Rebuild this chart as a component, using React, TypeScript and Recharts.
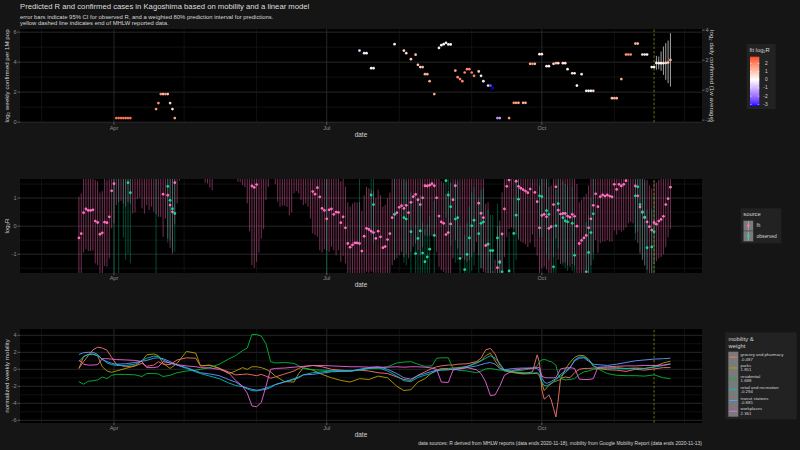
import React from 'react';
import { ComposedChart, Scatter, Line, XAxis, YAxis, ReferenceLine, ErrorBar } from 'recharts';

const FONT = '"Liberation Sans", Arial, Helvetica, sans-serif';

// ---------- time axis: days since 2020-03-01 ----------
const xDomain = [-9.2, 282.5];
const xTickDays = [31, 122, 214];
const xTickLabels = ['Apr', 'Jul', 'Oct'];
const minorMonthDays = [0, 61, 92, 153, 184, 245, 275];
const reportEndDay = 262;

// ---------- panel 1: confirmed cases ----------
const casesDays = [32,33,34,35,36,37,38,49,50,51,52,53,54,55,56,57,136,138,139,141,142,151,155,156,158,160,161,162,163,164,165,166,168,170,171,172,173,174,175,177,178,179,180,181,182,183,184,185,187,188,189,191,192,193,195,196,200,202,203,204,206,207,209,210,211,213,214,216,217,219,220,221,223,224,225,227,228,229,231,233,234,235,236,244,245,246,248,250,251,252,254,255,257,258,259,261,262];
const casesLog2 = [0.27,0.27,0.27,0.27,0.27,0.27,0.27,0.87,1.27,1.87,1.87,1.87,1.87,1.27,0.87,0.27,4.77,4.6,4.6,3.6,3.6,5.2,4.77,4.6,4.2,4.5,3.82,3.67,3.67,3.2,3.2,2.73,1.87,4.95,5.13,5.2,5.29,5.18,5.18,3.44,3.0,2.87,2.73,3.31,3.53,3.53,3.31,3.09,3.38,3.09,2.73,2.44,2.44,2.27,0.27,0.27,0.27,1.29,1.29,1.29,1.29,1.29,3.89,3.89,3.89,4.53,4.53,3.73,3.73,3.89,3.93,3.93,3.93,3.93,3.53,3.26,3.26,2.44,3.2,2.09,2.09,2.09,2.09,1.6,1.6,1.6,2.87,4.51,4.51,4.51,5.24,5.24,4.51,4.51,4.51,3.67,3.67];
const predDays = [263,264,265,266,267,268,269];
const predLog2 = [3.95,3.93,3.93,3.93,3.95,3.97,4.15];
const predLo = [3.49,3.53,3.42,3.15,2.82,2.6,2.37];
const predHi = [4.42,4.37,4.71,5.04,5.27,5.44,5.93];
const casesDomain = [-0.01, 6.21];
const dailyOffset = 2.13; // log2 daily (1w avg) = log2 weekly per 1M - offset
const casesTicks = [0, 2, 4, 6];
const dailyTicks = [-2, 0, 2, 4];

// ---------- panel 2: log2 R ----------
const fitStart = 16;
const fitVal = [
-0.42,-0.27,0.48,0.61,0.56,0.56,0.58,0.18,0.13,-0.29,
-0.24,0.14,0.12,0.33,1.26,1.51,2.2,2.3,2.35,2.25,
2.15,2.3,2.25,1.9,1.95,2.4,2.45,2.1,1.9,2.2,
2.0,2.15,1.95,1.85,1.8,1.8,1.14,1.75,1.1,0.75,
0.51,1.55,2.3,3.1,null,null,null,null,null,null,
null,null,null,null,3.0,3.0,2.85,2.75,null,null,
null,null,null,null,null,null,null,null,3.0,3.0,
2.9,2.85,2.4,1.9,1.43,1.38,1.48,1.9,2.3,2.6,
3.0,3.2,null,null,3.2,2.8,2.6,2.6,2.6,2.6,
2.3,2.4,3.0,3.1,3.0,2.8,2.6,2.7,2.6,2.1,
1.23,1.14,1.37,1.04,0.63,0.56,0.26,0.58,0.61,0.42,
0.5,0.49,0.12,0.33,-0.06,-0.62,-0.75,-0.67,-0.6,-0.6,
-0.62,-0.89,-0.36,-0.08,-0.12,-0.18,-0.23,-0.44,-0.18,-0.38,
-0.77,-0.73,-0.48,-0.27,0.3,0.42,0.48,0.67,0.73,0.63,
0.74,0.48,0.85,1.05,1.13,0.94,0.77,1.01,1.44,1.43,
1.46,1.51,1.44,1.01,0.36,0.15,0.1,-0.3,-0.23,0.08,
0.94,1.44,1.9,2.0,2.0,2.0,2.0,2.0,2.0,2.0,
2.0,0.82,0.46,0.3,-0.69,-0.64,-2.5,-3.2,-2.8,-1.48,
-1.27,-0.28,0.61,1.42,1.64,1.9,1.85,1.6,1.42,1.35,
1.3,1.25,1.19,1.32,1.8,1.2,0.87,-0.06,0.38,0.42,
0.33,-0.08,-0.02,0.77,1.4,0.57,0.43,0.45,0.45,0.36,
0.32,0.42,0.35,0.0,-0.62,-0.51,-0.42,-0.33,-0.06,0.26,
0.74,1.15,0.69,1.05,1.11,1.07,1.11,1.07,1.04,1.49,
1.31,1.49,1.43,1.49,1.62,1.8,1.85,1.8,1.43,1.08,
0.68,0.51,0.32,0.15,-0.02,-0.14,0.13,0.07,0.18,0.24,
0.35,0.77,0.98,1.39];
const fitLo = [
-1.9,-1.8,-0.94,-0.82,-0.89,-0.89,-0.87,-1.33,-1.39,-1.8,
-1.75,-1.42,-1.45,-1.15,-0.08,0.1,0.75,0.85,0.9,0.8,
0.7,0.85,0.8,0.45,0.49,0.96,1.01,0.63,0.45,0.75,
0.57,0.69,0.51,0.42,0.33,0.33,-0.38,0.27,-0.44,-0.77,
-0.98,0.06,0.81,1.62,null,null,null,null,null,null,
null,null,null,null,1.55,1.52,1.38,1.28,null,null,
null,null,null,null,null,null,null,null,1.58,1.56,
1.46,1.39,0.81,-0.18,-1.39,-1.49,-1.27,-0.94,-0.44,-0.11,
0.93,1.4,null,null,1.49,0.87,0.69,0.73,0.73,0.69,
0.39,0.49,1.17,1.25,1.17,0.93,0.75,0.81,0.69,0.27,
-0.26,-0.32,-0.38,-0.86,-0.94,-0.82,-0.86,-0.92,-0.74,-0.86,
-1.04,-0.86,-1.27,-1.06,-1.33,-1.85,-2.0,-2.0,-2.0,-2.0,
-2.0,-2.2,-1.9,-1.62,-1.66,-1.62,-1.66,-1.75,-1.66,-1.75,
-2.0,-2.0,-1.9,-1.8,-1.39,-1.21,-1.15,-1.04,-0.92,-1.1,
-0.98,-1.15,-0.92,-0.74,-0.62,-0.86,-1.04,-0.74,-0.33,-0.36,
-0.33,-0.36,-0.38,-0.92,-1.45,-1.57,-1.63,-1.9,-1.9,-1.9,
-1.15,-0.5,-0.8,-1.04,-1.15,-1.21,-1.27,-1.21,-1.1,-0.92,
-0.56,-1.04,-1.5,-1.63,-2.0,-2.0,-3.8,-4.5,-4.1,-3.0,
-2.9,-1.9,-1.1,-0.4,-0.1,-0.05,-0.1,-0.3,-0.45,-0.55,
-0.6,-0.65,-0.75,-0.6,-0.3,-0.75,-1.05,-1.85,-1.5,-1.45,
-1.55,-1.9,-1.85,-1.1,-0.45,-1.2,-1.35,-1.3,-1.3,-1.4,
-1.45,-1.35,-1.4,-1.75,-2.3,-2.2,-2.1,-2.0,-1.75,-1.4,
-0.95,-0.5,-0.95,-0.6,-0.55,-0.55,-0.5,-0.55,-0.55,-0.15,
-0.3,-0.15,-0.2,-0.15,-0.05,0.1,0.15,0.1,-0.25,-0.6,
-1.0,-1.2,-1.4,-1.55,-1.75,-1.85,-1.35,-1.25,-1.15,-1.1,
-1.0,-0.75,-0.4,-0.1];
const fitHi = [
1.05,1.17,1.95,2.05,2.0,2.0,2.05,1.65,1.6,1.2,
1.25,1.7,1.65,1.8,2.7,2.95,3.6,3.7,3.8,3.7,
3.6,3.7,3.7,3.35,3.4,3.85,3.9,3.55,3.35,3.65,
3.45,3.6,3.4,3.3,3.25,3.25,2.6,3.2,2.55,2.2,
1.95,3.0,3.75,4.5,null,null,null,null,null,null,
null,null,null,null,4.4,4.4,4.3,4.2,null,null,
null,null,null,null,null,null,null,null,4.4,4.4,
4.3,4.3,3.9,3.4,2.9,2.85,2.95,3.4,3.8,4.1,
4.5,4.7,null,null,4.7,4.3,4.1,4.1,4.1,4.1,
3.8,3.9,4.5,4.6,4.5,4.3,4.1,4.2,4.1,3.6,
2.7,2.6,2.9,2.5,2.1,2.0,1.75,2.05,2.05,1.9,
1.95,1.95,1.6,1.8,1.4,0.85,0.7,0.8,0.85,0.85,
0.85,0.55,1.1,1.4,1.35,1.3,1.25,1.0,1.3,1.1,
0.7,0.75,1.0,1.2,1.8,1.9,1.95,2.15,2.2,2.1,
2.2,1.95,2.3,2.5,2.6,2.4,2.25,2.5,2.9,2.9,
2.9,3.0,2.9,2.5,1.85,1.6,1.55,1.15,1.25,1.55,
2.4,2.9,3.4,3.5,3.5,3.5,3.5,3.5,3.5,3.5,
3.5,2.3,1.9,1.8,0.8,0.85,-0.9,-1.6,-1.2,0.0,
0.2,1.2,2.1,2.9,3.1,3.4,3.3,3.1,2.9,2.85,
2.8,2.75,2.7,2.8,3.3,2.7,2.35,1.45,1.85,1.9,
1.8,1.4,1.45,2.25,2.9,2.05,1.9,1.95,1.95,1.85,
1.8,1.9,1.85,1.5,0.85,0.95,1.05,1.15,1.45,1.75,
2.25,2.65,2.2,2.55,2.6,2.55,2.6,2.55,2.55,3.0,
2.8,3.0,2.9,3.0,3.1,3.3,3.35,3.3,2.9,2.55,
2.15,2.0,1.8,1.65,1.45,1.35,1.6,1.55,1.65,1.7,
1.8,2.25,2.45,2.9];

const obsDays = [31,33,35,36,37,38,49,54,55,56,57,122,136,141,142,151,155,156,158,160,161,162,163,164,165,166,168,173,174,175,177,178,179,181,182,183,184,185,187,188,189,191,192,193,195,196,197,200,202,203,204,213,214,216,217,219,220,221,223,224,225,227,228,233,234,235,236,254,255,256,257,258,259,261,262];
const obsVal = [1.9,1.9,1.9,1.9,1.55,1.19,1.9,1.42,0.92,0.62,0.45,1.9,1.8,1.11,0.77,0.42,0.3,0.25,-0.2,-0.98,-0.44,-0.17,-0.96,-1.27,-1.1,-0.82,-0.33,1.62,1.11,0.69,0.25,0.3,-1.15,-1.55,-1.01,-0.42,0.01,0.21,-0.27,0.1,0.15,-0.64,-0.87,-0.87,-0.42,-1.3,-1.63,-1.6,-0.26,0.39,0.96,1.08,1.05,0.55,0.42,-1.45,0.01,0.8,0.3,0.19,0.15,0.1,-1.04,-1.63,-0.94,-0.23,0.44,1.08,1.4,0.77,0.49,0.3,-0.77,-0.74,-0.2];
const obsLo = [-2.5,-2.5,-0.4,-1.2,-1.0,-1.33,-2.5,-0.6,-0.5,-0.9,-0.92,-2.5,-0.7,-0.3,-0.6,-1.2,-1.3,-1.4,-2.0,-2.8,-2.2,-1.9,-2.8,-3.0,-2.9,-2.6,-2.0,0.3,-0.3,-0.7,-1.3,-1.2,-3.0,-3.5,-2.9,-2.2,-1.6,-1.4,-1.9,-1.5,-1.5,-2.4,-2.7,-2.7,-2.2,-3.2,-3.5,-3.5,-2.0,-1.2,-0.5,-0.4,-0.4,-1.0,-1.2,-3.5,-1.8,-0.8,-1.4,-1.5,-1.6,-1.6,-3.0,-3.5,-2.9,-2.0,-1.2,-0.5,-0.2,-0.9,-1.2,-1.4,-2.6,-2.6,-1.9];
const obsHi = [3.0,3.0,3.0,3.0,2.8,2.5,3.0,2.8,2.3,2.0,1.8,3.0,3.0,2.5,2.2,1.8,1.7,1.6,1.2,0.05,0.9,1.1,0.15,-0.1,0.05,0.35,0.9,2.8,2.4,2.0,1.6,1.6,0.0,-0.32,0.1,0.7,1.2,1.4,1.0,1.3,1.35,0.6,0.4,0.4,0.8,0.0,-0.3,-0.2,1.0,1.6,2.1,2.3,2.3,1.8,1.7,0.04,1.3,2.0,1.6,1.5,1.45,1.4,0.3,0.15,0.4,1.0,1.7,2.3,2.6,2.0,1.8,1.6,0.6,0.6,1.1];
const rDomain = [-1.66, 1.68];
const rTicks = [-1, 0, 1];

// ---------- panel 3: mobility ----------
const mobDays = [16,18,20,22,24,26,28,30,32,36,40,43,45,48,50,52,55,58,62,66,68,72,76,80,83,86,88,90,92,94,96,98,100,104,108,110,112,116,120,124,128,132,136,140,144,148,152,155,158,161,164,167,169,171,174,176,178,182,186,188,190,192,194,196,198,202,206,210,212,213,214,215,216,217,218,219,220,221,222,224,226,228,230,232,234,236,238,242,246,250,254,258,262,266,269];
const grocery = [0.1,0.9,1.6,2.3,2.6,2.5,2.25,1.4,0.6,0.3,0.4,0.7,0.35,0.5,0.9,0.6,0.55,1.1,1.35,1.3,0.4,0.45,0.1,-0.3,-0.65,-0.6,-0.55,-0.65,-0.75,-0.6,-0.8,-1.05,-0.9,-0.55,-0.2,0.1,0.3,0.45,0.3,0.0,-0.1,-0.2,-0.1,-0.2,-0.4,-0.5,-0.9,-1.2,-1.3,-0.7,-0.3,0.1,0.3,0.4,0.5,0.5,0.6,0.65,0.9,1.3,2.3,2.45,1.8,0.5,-0.1,-0.35,-0.5,-0.3,1.7,0.8,-2.4,-3.5,-3.3,-3.0,-3.6,-4.6,-5.6,-3.6,-1.1,-0.9,-1.0,-0.4,0.0,0.1,0.1,0.15,0.1,-0.05,-0.1,-0.25,0.0,-0.1,0.05,0.2,0.2];
const parks = [0.1,1.5,1.75,1.8,1.6,0.3,-0.2,-0.35,-0.2,0.1,0.4,1.0,1.7,1.8,1.6,0.7,0.1,0.7,2.1,1.9,0.4,0.5,0.15,-0.5,-0.2,0.2,0.0,0.3,0.3,0.2,0.0,-0.3,-0.8,-1.45,-1.5,-0.5,0.2,-0.1,-0.6,-1.0,-1.3,-1.5,-1.1,-1.2,-0.8,-1.0,-2.0,-2.5,-2.4,-1.5,-1.1,-0.4,-0.1,0.1,0.1,0.15,0.2,0.3,0.8,1.0,1.6,1.9,1.0,0.2,-0.2,-0.4,-0.55,-0.5,-0.5,-0.8,-1.6,-2.5,-2.2,-1.9,-1.7,-1.5,-1.4,-1.3,-1.2,0.0,0.8,1.4,1.65,1.6,1.2,0.4,0.1,0.15,0.2,0.1,0.15,0.1,0.3,0.75,0.95];
const residential = [-1.45,-1.75,-1.4,-1.35,-1.25,-0.9,-1.1,-0.7,-0.6,-0.6,-0.65,-0.85,-0.5,-0.5,-0.55,-0.85,-0.7,-0.4,-0.2,-0.1,0.0,0.2,0.6,1.2,1.6,2.2,2.5,4.1,4.1,3.9,3.0,0.9,0.75,0.8,0.7,0.4,0.1,-0.05,-0.1,-0.15,-0.2,-0.2,-0.1,0.1,0.1,0.3,0.75,0.85,0.9,0.6,0.35,0.4,1.3,1.35,1.35,0.1,-0.1,-0.2,-0.4,-0.2,0.05,0.1,0.0,-0.1,-0.1,-0.2,-0.1,0.1,0.4,0.9,1.1,1.15,1.1,0.95,0.9,0.7,0.5,-0.6,-1.1,-1.25,-1.2,-1.1,-0.6,-0.3,-0.2,0.0,0.05,-0.5,-0.7,-0.75,-0.75,-0.8,-0.65,-1.0,-1.1];
const retail = [0.9,1.5,1.75,1.75,1.6,1.2,0.75,0.55,0.45,0.45,0.6,1.05,1.3,1.55,1.5,1.1,0.7,0.5,0.1,-0.3,-0.5,-0.8,-1.1,-1.6,-1.9,-2.05,-2.3,-2.5,-2.55,-2.35,-2.2,-2.0,-1.8,-1.45,-1.1,-0.9,-0.65,-0.4,-0.3,-0.2,-0.15,-0.2,-0.1,0.1,0.2,-0.2,-0.8,-1.35,-1.45,-0.95,-0.7,-0.45,-0.2,-0.1,-0.05,0.0,0.1,0.35,0.7,1.0,1.3,1.6,1.3,0.7,-0.1,-0.3,-0.4,-0.45,-0.4,-0.6,-1.45,-1.9,-1.95,-1.8,-1.65,-1.4,-1.2,-1.0,-0.8,-0.4,0.1,1.1,1.45,1.45,1.1,0.4,0.2,0.15,0.1,0.05,0.1,0.1,0.25,0.45,0.6];
const transit = [1.75,1.95,2.0,2.0,1.75,1.15,0.9,0.7,0.6,0.65,0.8,0.95,1.05,1.3,1.35,1.25,0.9,0.5,0.2,-0.2,-0.4,-0.55,-0.75,-1.2,-1.5,-2.0,-2.2,-2.35,-2.45,-2.45,-2.35,-2.15,-1.8,-1.5,-1.2,-1.0,-0.65,-0.6,-0.45,-0.3,-0.25,-0.2,0.0,0.2,0.3,0.0,-0.5,-1.0,-1.15,-0.75,-0.5,-0.25,-0.1,-0.05,-0.05,0.0,0.05,0.2,0.4,0.55,0.7,0.8,0.6,0.1,-0.05,0.1,0.15,0.15,0.1,-0.2,-1.0,-1.5,-1.65,-1.55,-1.45,-1.25,-1.1,-0.9,-0.6,-0.2,0.2,1.0,1.3,1.35,0.95,0.6,0.55,0.45,0.6,0.8,1.0,1.1,1.2,1.25,1.3];
const workplaces = [1.1,0.6,0.5,0.5,0.55,1.25,1.25,1.2,1.15,1.1,1.05,0.9,0.2,0.2,0.3,0.9,0.75,0.55,0.4,0.3,0.2,0.15,0.0,-0.4,-1.3,-2.0,-2.8,-4.3,-4.4,-3.9,-2.0,0.0,0.1,0.15,0.25,0.3,0.35,0.45,0.45,0.4,0.35,0.3,0.3,0.25,0.25,0.25,0.3,0.25,0.3,0.3,0.25,0.15,0.0,-1.5,-1.55,-0.1,0.0,0.2,-0.05,-0.5,-1.5,-3.1,-3.0,-2.0,-0.7,-0.1,0.05,0.15,0.2,0.2,-0.8,-0.95,-1.0,-1.0,-1.0,-1.0,-0.95,-0.5,0.05,0.15,0.2,0.1,-1.15,-1.2,-1.2,-1.1,0.25,0.3,0.35,0.4,0.4,0.45,0.45,0.5,0.65];
const mobKeys = ['grocery', 'parks', 'residential', 'retail', 'transit', 'workplaces'];
const mobNames = ['grocery and pharmacy', 'parks', 'residential', 'retail and recreation', 'transit stations', 'workplaces'];
const mobWeights = ['-0.487', '1.851', '1.688', '-0.294', '-0.885', '2.361'];
const mobColors = ['#F8766D', '#B79F00', '#00BA38', '#00BFC4', '#619CFF', '#F564E3'];
const mobDomain = [-6.28, 4.74];
const mobTicks = [-6, -4, -2, 0, 2, 4];

// ---------- colour scale (gradient2: blue - white - red, Lab interpolation) ----------
const colorHalfRange = 3.2;
const colorBarRange = [-3.2, 2.8];
const colorBarTicks = [2, 1, 0, -1, -2, -3];
const toLin = (c) => { c /= 255; return c <= 0.04045 ? c / 12.92 : Math.pow((c + 0.055) / 1.055, 2.4); };
const fromLin = (c) => { const v = c <= 0.0031308 ? 12.92 * c : 1.055 * Math.pow(c, 1 / 2.4) - 0.055; return Math.round(255 * Math.min(1, Math.max(0, v))); };
function rgb2lab(rgb) {
  const R = toLin(rgb[0]), G = toLin(rgb[1]), B = toLin(rgb[2]);
  const X = (0.4124564 * R + 0.3575761 * G + 0.1804375 * B) / 0.95047;
  const Y = 0.2126729 * R + 0.7151522 * G + 0.072175 * B;
  const Z = (0.0193339 * R + 0.119192 * G + 0.9503041 * B) / 1.08883;
  const f = (t) => (t > 0.008856 ? Math.cbrt(t) : 7.787 * t + 16 / 116);
  const fx = f(X), fy = f(Y), fz = f(Z);
  return [116 * fy - 16, 500 * (fx - fy), 200 * (fy - fz)];
}
function lab2rgb(lab) {
  const fy = (lab[0] + 16) / 116, fx = fy + lab[1] / 500, fz = fy - lab[2] / 200;
  const inv = (t) => (t > 0.206893 ? t * t * t : (t - 16 / 116) / 7.787);
  const X = inv(fx) * 0.95047, Y = inv(fy), Z = inv(fz) * 1.08883;
  const R = 3.2404542 * X - 1.5371385 * Y - 0.4985314 * Z;
  const G = -0.969266 * X + 1.8760108 * Y + 0.041556 * Z;
  const B = 0.0556434 * X - 0.2040259 * Y + 1.0572252 * Z;
  return `rgb(${fromLin(R)},${fromLin(G)},${fromLin(B)})`;
}
const LAB_W = rgb2lab([255, 255, 255]);
const LAB_R = rgb2lab([255, 0, 0]);
const LAB_B = rgb2lab([0, 0, 255]);
function fitColor(v) {
  const t = Math.max(-1, Math.min(1, v / colorHalfRange));
  const end = t >= 0 ? LAB_R : LAB_B;
  const a = Math.abs(t);
  return lab2rgb([0, 1, 2].map((k) => LAB_W[k] * (1 - a) + end[k] * a));
}

// ---------- derived tables ----------
const fitRows = fitVal
  .map((v, i) => ({ d: fitStart + i, v, lo: fitLo[i], hi: fitHi[i] }))
  .filter((r) => r.v !== null)
  .map((r) => ({ d: r.d, v: r.v, err: [r.v - r.lo, r.hi - r.v] }));
const fitByDay = new Map(fitRows.map((r) => [r.d, r.v]));
const obsRows = obsDays.map((d, i) => ({ d, v: obsVal[i], err: [obsVal[i] - obsLo[i], obsHi[i] - obsVal[i]] }));
const casesRows = casesDays.map((d, i) => ({ d, v: casesLog2[i], color: fitColor(fitByDay.get(d) ?? 0) }));
const predRows = predDays.map((d, i) => ({ d, v: predLog2[i], err: [predLog2[i] - predLo[i], predHi[i] - predLog2[i]], color: fitColor(fitByDay.get(d) ?? 0) }));
const mobSeries = [grocery, parks, residential, retail, transit, workplaces];
const mobTable = mobDays.map((d, i) => {
  const row = { d };
  mobKeys.forEach((k, j) => { row[k] = mobSeries[j][i]; });
  return row;
});

// ---------- layout ----------
const PANELS = [
  { top: 29.2, bottom: 122.5 },
  { top: 179, bottom: 272.7 },
  { top: 329, bottom: 422.7 },
];
const CH = 120;
const tickStyle = { fill: '#8e8e8e', fontSize: 5.6, fontFamily: FONT };
const GRID_MAJOR = '#303030';
const GRID_MINOR = '#1c1c1c';
const DASH_COLOR = '#8a8a12';

const fmtX = (v) => xTickLabels[xTickDays.indexOf(v)] ?? '';

function vGrid(yId) {
  const p = yId ? { yAxisId: yId } : {};
  return [
    ...minorMonthDays.map((d) => <ReferenceLine key={'vm' + d} x={d} stroke={GRID_MINOR} strokeWidth={0.6} {...p} />),
    ...xTickDays.map((d) => <ReferenceLine key={'vM' + d} x={d} stroke={GRID_MAJOR} strokeWidth={0.8} {...p} />),
  ];
}
function hGrid(major, yId) {
  const p = yId ? { yAxisId: yId } : {};
  const step = major[1] - major[0];
  const minor = major.slice(0, -1).map((v) => v + step / 2);
  minor.push(major[0] - step / 2, major[major.length - 1] + step / 2);
  return [
    ...minor.map((v) => <ReferenceLine key={'hm' + v} y={v} stroke={GRID_MINOR} strokeWidth={0.6} {...p} ifOverflow="discard" />),
    ...major.map((v) => <ReferenceLine key={'hM' + v} y={v} stroke={GRID_MAJOR} strokeWidth={0.8} {...p} />),
  ];
}

const noShape = () => <g />;
const colorDot = (props) => (props.cx == null ? <g /> : <circle cx={props.cx} cy={props.cy} r={1.35} fill={props.payload.color} />);
const pinkDot = (props) => (props.cx == null ? <g /> : <circle cx={props.cx} cy={props.cy} r={1.4} fill="#ff6ec0" />);
const greenDot = (props) => (props.cx == null ? <g /> : <circle cx={props.cx} cy={props.cy} r={1.4} fill="#1fd39b" />);

function xAxis(visible = true) {
  return (
    <XAxis dataKey="d" type="number" domain={xDomain} ticks={xTickDays} tickFormatter={fmtX} interval={0}
      allowDataOverflow axisLine={false} tickSize={2.5} tickMargin={1} height={16}
      tick={visible ? tickStyle : false} tickLine={visible ? { stroke: '#8e8e8e', strokeWidth: 0.6 } : false} />
  );
}
function yAxis(domain, ticks, visible = true) {
  return (
    <YAxis type="number" domain={domain} ticks={ticks} allowDataOverflow width={20} axisLine={false}
      tickSize={2.5} tickMargin={1} tick={visible ? tickStyle : false}
      tickLine={visible ? { stroke: '#8e8e8e', strokeWidth: 0.6 } : false} />
  );
}

function CasesChart() {
  const p = PANELS[0];
  return (
    <ComposedChart width={800} height={CH} margin={{ top: 10, right: 78, bottom: CH - 26 - (p.bottom - p.top), left: 0 }}>
      {xAxis()}
      <YAxis yAxisId="l" type="number" domain={casesDomain} ticks={casesTicks} allowDataOverflow width={20}
        axisLine={false} tickSize={2.5} tickMargin={1} tick={tickStyle} tickLine={{ stroke: '#8e8e8e', strokeWidth: 0.6 }} />
      <YAxis yAxisId="r" orientation="right" type="number" domain={[casesDomain[0] - dailyOffset, casesDomain[1] - dailyOffset]}
        ticks={dailyTicks} allowDataOverflow width={20} axisLine={false} tickSize={2.5} tickMargin={1} tick={tickStyle}
        tickLine={{ stroke: '#8e8e8e', strokeWidth: 0.6 }} />
      {hGrid([0, 2, 4, 6], 'l')}
      {vGrid('l')}
      <ReferenceLine yAxisId="l" x={reportEndDay} stroke={DASH_COLOR} strokeWidth={0.8} strokeDasharray="2.5 1.8" />
      <Scatter yAxisId="l" data={predRows} dataKey="v" shape={noShape} isAnimationActive={false}>
        <ErrorBar dataKey="err" direction="y" width={0} stroke="#b4b4b4" strokeWidth={0.9} isAnimationActive={false} />
      </Scatter>
      <Scatter yAxisId="l" data={casesRows} dataKey="v" shape={colorDot} isAnimationActive={false} />
      <Scatter yAxisId="l" data={predRows} dataKey="v" shape={colorDot} isAnimationActive={false} />
    </ComposedChart>
  );
}

function RAxesChart() {
  const p = PANELS[1];
  return (
    <ComposedChart width={800} height={CH} margin={{ top: 10, right: 98, bottom: CH - 26 - (p.bottom - p.top), left: 0 }}>
      {xAxis()}
      {yAxis(rDomain, rTicks)}
      {hGrid([-1, 0, 1])}
      {vGrid()}
    </ComposedChart>
  );
}

function RMarksChart() {
  const p = PANELS[1];
  return (
    <ComposedChart width={800} height={CH} margin={{ top: 10, right: 98, bottom: CH - 26 - (p.bottom - p.top), left: 0 }}>
      {xAxis(false)}
      {yAxis(rDomain, rTicks, false)}
      <Scatter data={fitRows} dataKey="v" shape={noShape} isAnimationActive={false}>
        <ErrorBar dataKey="err" direction="y" width={0} stroke="#ff69b4" strokeOpacity={0.5} strokeWidth={0.9} isAnimationActive={false} />
      </Scatter>
      <Scatter data={obsRows} dataKey="v" shape={noShape} isAnimationActive={false}>
        <ErrorBar dataKey="err" direction="y" width={0} stroke="#00d48f" strokeOpacity={0.4} strokeWidth={0.9} isAnimationActive={false} />
      </Scatter>
      <ReferenceLine x={reportEndDay} stroke={DASH_COLOR} strokeWidth={0.8} strokeDasharray="2.5 1.8" />
      <Scatter data={fitRows} dataKey="v" shape={pinkDot} isAnimationActive={false} />
      <Scatter data={obsRows} dataKey="v" shape={greenDot} isAnimationActive={false} />
    </ComposedChart>
  );
}

function MobChart() {
  const p = PANELS[2];
  return (
    <ComposedChart width={800} height={CH} data={mobTable} margin={{ top: 10, right: 98, bottom: CH - 26 - (p.bottom - p.top), left: 0 }}>
      {xAxis()}
      {yAxis(mobDomain, mobTicks)}
      {hGrid([-6, -4, -2, 0, 2, 4])}
      {vGrid()}
      <ReferenceLine x={reportEndDay} stroke={DASH_COLOR} strokeWidth={0.8} strokeDasharray="2.5 1.8" />
      {mobKeys.map((k, j) => (
        <Line key={k} dataKey={k} type="linear" stroke={mobColors[j]} strokeWidth={0.9} dot={false} isAnimationActive={false} />
      ))}
    </ComposedChart>
  );
}

function Overlay() {
  const txt = '#d6d6d6';
  const cbTop = 56.7, cbH = 49.3, cbX = 750, cbW = 9.3;
  const cbY = (v) => cbTop + ((colorBarRange[1] - v) / (colorBarRange[1] - colorBarRange[0])) * cbH;
  const stops = [];
  for (let v = colorBarRange[1]; v >= colorBarRange[0] - 1e-9; v -= 0.2) stops.push(v);
  const keyTop = 351.7, keyH = 10.83;
  return (
    <svg width={800} height={450} style={{ position: 'absolute', left: 0, top: 0, fontFamily: FONT }}>
      <defs>
        <linearGradient id="cbgrad" x1="0" y1="0" x2="0" y2="1">
          {stops.map((v, i) => (
            <stop key={i} offset={(colorBarRange[1] - v) / (colorBarRange[1] - colorBarRange[0])} stopColor={fitColor(v)} />
          ))}
        </linearGradient>
      </defs>
      <text x={20} y={6.3} fontSize={7.7} fill="#dedede" dominantBaseline="central">Predicted R and confirmed cases in Kagoshima based on mobility and a linear model</text>
      <text x={20} y={16.6} fontSize={5.9} fill={txt} dominantBaseline="central">error bars indicate 95% CI for observed R, and a weighted 80% prediction interval for predictions.</text>
      <text x={20} y={23.3} fontSize={5.9} fill={txt} dominantBaseline="central">yellow dashed line indicates end of MHLW reported data.</text>

      <text transform="translate(6.5,76) rotate(-90)" fontSize={6.2} fill={txt} textAnchor="middle" dominantBaseline="central">log₂ weekly confirmed per 1M pop</text>
      <text transform="translate(712.5,76) rotate(90)" fontSize={6.2} fill={txt} textAnchor="middle" dominantBaseline="central">log₂ daily confirmed (1w average)</text>
      <text transform="translate(6.5,226) rotate(-90)" fontSize={6.2} fill={txt} textAnchor="middle" dominantBaseline="central">log₂R</text>
      <text transform="translate(6.5,376) rotate(-90)" fontSize={6.2} fill={txt} textAnchor="middle" dominantBaseline="central">normalized weekly mobility</text>
      {[134.8, 284.8, 434.8].map((y) => (
        <text key={y} x={361} y={y} fontSize={6.4} fill={txt} textAnchor="middle" dominantBaseline="central">date</text>
      ))}
      <text x={702} y={443.6} fontSize={4.95} fill={txt} textAnchor="end" dominantBaseline="central">data sources: R derived from MHLW reports (data ends 2020-11-18), mobility from Google Mobility Report (data ends 2020-11-13)</text>

      {/* colourbar legend */}
      <rect x={746.7} y={44} width={29} height={65} fill="#222222" />
      <text x={749.5} y={49.5} fontSize={5.8} fill={txt} dominantBaseline="central">fit log₂R</text>
      <rect x={cbX} y={cbTop} width={cbW} height={cbH} fill="url(#cbgrad)" />
      {colorBarTicks.map((v) => (
        <g key={v}>
          <line x1={cbX} x2={cbX + 1.8} y1={cbY(v)} y2={cbY(v)} stroke="#fff" strokeWidth={0.5} />
          <line x1={cbX + cbW - 1.8} x2={cbX + cbW} y1={cbY(v)} y2={cbY(v)} stroke="#fff" strokeWidth={0.5} />
          <text x={767.6} y={cbY(v)} fontSize={4.8} fill={txt} textAnchor="end" dominantBaseline="central">{v}</text>
        </g>
      ))}

      {/* source legend */}
      <rect x={740.7} y={208.3} width={40.6} height={35} fill="#222222" />
      <text x={743.3} y={214.3} fontSize={5.8} fill={txt} dominantBaseline="central">source</text>
      {[{ c: '#ff6ec0', l: 'fit' }, { c: '#1fd39b', l: 'observed' }].map((k, i) => (
        <g key={k.l}>
          <rect x={743.3} y={220.5 + i * 10.5} width={10} height={10.5} fill="#7a7a7a" stroke="#222" strokeWidth={0.3} />
          <line x1={748.3} x2={748.3} y1={221.3 + i * 10.5} y2={230.2 + i * 10.5} stroke="#b8b8b8" strokeWidth={0.8} />
          <circle cx={748.3} cy={225.75 + i * 10.5} r={1.4} fill={k.c} />
          <text x={756.5} y={225.9 + i * 10.5} fontSize={4.9} fill={txt} dominantBaseline="central">{k.l}</text>
        </g>
      ))}

      {/* mobility legend */}
      <rect x={725.3} y={332.3} width={71.4} height={87} fill="#222222" />
      <text x={728.5} y={339.3} fontSize={5.8} fill={txt} dominantBaseline="central">mobility &amp;</text>
      <text x={728.5} y={345.6} fontSize={5.8} fill={txt} dominantBaseline="central">weight</text>
      <rect x={728.3} y={keyTop} width={10} height={keyH * 6} fill="#7a7a7a" />
      {mobNames.map((n, i) => {
        const cy = keyTop + keyH * (i + 0.5);
        return (
          <g key={n}>
            <line x1={729.3} x2={737.3} y1={cy} y2={cy} stroke={mobColors[i]} strokeWidth={1} />
            <text x={740.6} y={cy - 2.3} fontSize={4.3} fill={txt} dominantBaseline="central">{n}</text>
            <text x={740.6} y={cy + 1.9} fontSize={4.3} fill={txt} dominantBaseline="central">{mobWeights[i]}</text>
          </g>
        );
      })}
    </svg>
  );
}

export default function App() {
  const p2 = PANELS[1];
  return (
    <div style={{ position: 'absolute', left: 0, top: 0, width: 800, height: 450, background: '#151515', overflow: 'hidden', fontFamily: FONT }}>
      {PANELS.map((p, i) => (
        <div key={i} style={{ position: 'absolute', left: 20, top: p.top, width: 682, height: p.bottom - p.top, background: '#000' }} />
      ))}
      <div style={{ position: 'absolute', left: 0, top: PANELS[0].top - 10 }}><CasesChart /></div>
      <div style={{ position: 'absolute', left: 0, top: p2.top - 10 }}><RAxesChart /></div>
      <div style={{ position: 'absolute', left: 20, top: p2.top, width: 682, height: p2.bottom - p2.top, overflow: 'hidden' }}>
        <div style={{ position: 'absolute', left: -20, top: -10 }}><RMarksChart /></div>
      </div>
      <div style={{ position: 'absolute', left: 0, top: PANELS[2].top - 10 }}><MobChart /></div>
      <Overlay />
    </div>
  );
}
